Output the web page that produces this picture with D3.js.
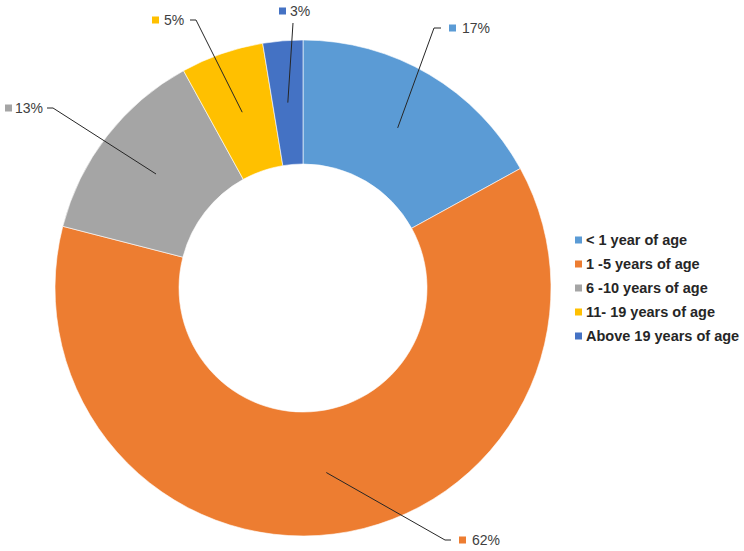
<!DOCTYPE html>
<html>
<head>
<meta charset="utf-8">
<script src="https://cdn.jsdelivr.net/npm/d3@7"></script>
<style>
  html, body { margin: 0; padding: 0; background: #fff; }
  svg { display: block; font-family: "Liberation Sans", Arial, sans-serif; }
</style>
</head>
<body>
<div id="chart"></div>
<script>
const categories = ["< 1 year of age", "1 -5 years of age", "6 -10 years of age", "11- 19 years of age", "Above 19 years of age"];
// shares; labels show them rounded
const shares = [17, 62, 13, 5.4, 2.6];
const colours = ["#5B9BD5", "#ED7D31", "#A5A5A5", "#FFC000", "#4472C4"];

// where each data label sits (marker left, middle y) and where its leader bends
const labelLayout = [
  { mx: 449, my: 28, ex: 434, ey: 28, hx: 441, tx: 462 },
  { mx: 459, my: 540, ex: 445, ey: 540, hx: 451, tx: 472 },
  { mx: 5, my: 108, ex: 53, ey: 108, hx: 47, tx: 15 },
  { mx: 152, my: 20, ex: 196, ey: 20, hx: 190, tx: 164 },
  { mx: 279, my: 11, ex: 293, ey: 23, hx: null, tx: 290 }
];

const width = 744;
const height = 551;
const centre = { x: 303, y: 288 };
const outerR = 248;
const innerR = 124;

const svg = d3.select("#chart")
  .append("svg")
  .attr("width", width)
  .attr("height", height);

const pie = d3.pie().sort(null).value((d) => d);
const arcs = pie(shares);

const arc = d3.arc().innerRadius(innerR).outerRadius(outerR);
const midArc = d3.arc().innerRadius((innerR + outerR) / 2).outerRadius((innerR + outerR) / 2);

const g = svg.append("g").attr("transform", `translate(${centre.x},${centre.y})`);

g.selectAll("path.slice")
  .data(arcs)
  .enter()
  .append("path")
  .attr("class", "slice")
  .attr("d", arc)
  .attr("fill", (d, i) => colours[i])
  .attr("stroke", "#fff")
  .attr("stroke-width", 0.6);

// leader lines
arcs.forEach((d, i) => {
  const c = midArc.centroid(d);
  const lay = labelLayout[i];
  const pts = [[c[0] + centre.x, c[1] + centre.y], [lay.ex, lay.ey]];
  if (lay.hx !== null) pts.push([lay.hx, lay.ey]);
  svg.append("path")
    .attr("d", d3.line()(pts))
    .attr("fill", "none")
    .attr("stroke", "#262626")
    .attr("stroke-width", 1);
});

// data labels
const labels = svg.selectAll("g.dlabel")
  .data(arcs)
  .enter()
  .append("g")
  .attr("class", "dlabel");

labels.append("rect")
  .attr("x", (d, i) => labelLayout[i].mx)
  .attr("y", (d, i) => labelLayout[i].my - 3.5)
  .attr("width", 7)
  .attr("height", 7)
  .attr("fill", (d, i) => colours[i]);

labels.append("text")
  .attr("x", (d, i) => labelLayout[i].tx)
  .attr("y", (d, i) => labelLayout[i].my + 5)
  .attr("font-size", 14)
  .attr("fill", "#404040")
  .text((d) => Math.round(d.data) + "%");

// legend
const legendY = d3.scalePoint().domain(categories).range([240, 336]);

const legend = svg.selectAll("g.legend")
  .data(categories)
  .enter()
  .append("g")
  .attr("class", "legend");

legend.append("rect")
  .attr("x", 575)
  .attr("y", (d) => legendY(d) - 3.5)
  .attr("width", 7)
  .attr("height", 7)
  .attr("fill", (d, i) => colours[i]);

legend.append("text")
  .attr("x", 586)
  .attr("y", (d) => legendY(d) + 5)
  .attr("font-size", 14.5)
  .attr("font-weight", "bold")
  .attr("fill", "#262626")
  .text((d) => d);
</script>
</body>
</html>
